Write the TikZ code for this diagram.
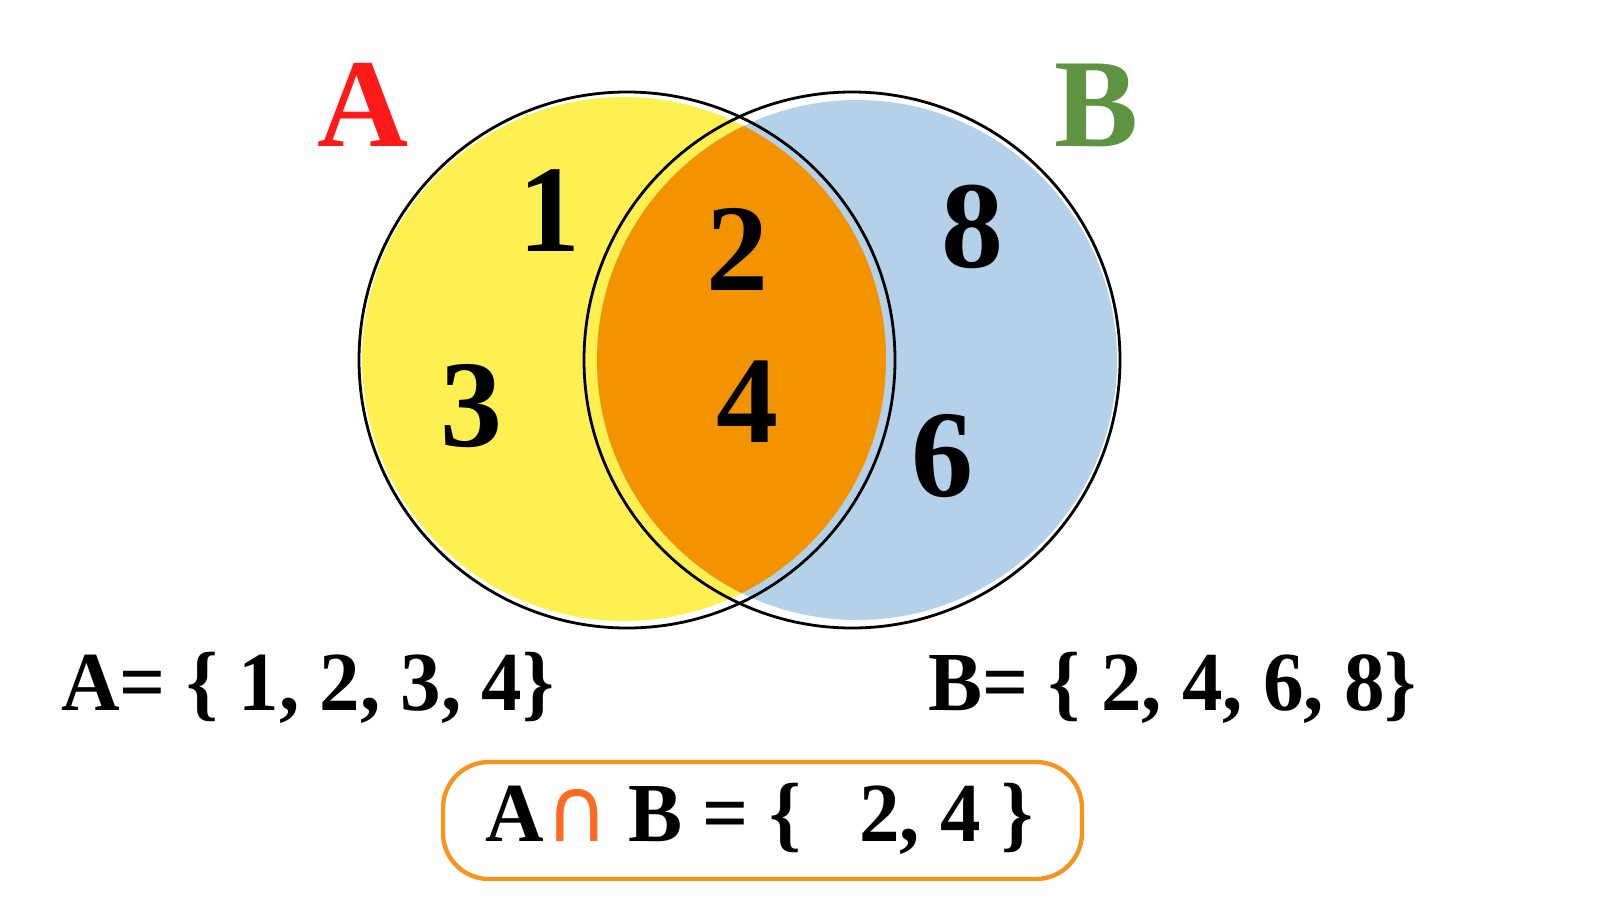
\documentclass[tikz,border=0pt]{standalone}
\usepackage{fontspec}
\setmainfont{Liberation Serif}
\newfontfamily\symfont{DejaVu Sans}
\definecolor{setyellow}{HTML}{FFF052}
\definecolor{setblue}{HTML}{B5D0E9}
\definecolor{lensorange}{HTML}{F39300}
\definecolor{labelred}{HTML}{FF1A1A}
\definecolor{labelgreen}{HTML}{5E9441}
\definecolor{boxorange}{HTML}{F7941D}
\definecolor{capred}{HTML}{FF6A22}

\begin{document}
\begin{tikzpicture}[
  x=0.5pt,
  y=-0.5pt,
  outline/.style={draw=black,line width=1.4pt},
  element/.style={font=\bfseries\fontsize{62}{62}\selectfont,inner sep=0pt},
  setname/.style={font=\bfseries\fontsize{63}{63}\selectfont,inner sep=0pt},
  setlist/.style={font=\bfseries\fontsize{42}{42}\selectfont,inner sep=0pt,anchor=base west},
  resultbox/.style={draw=boxorange,line width=2.2pt,rounded corners=23pt}
]
  \useasboundingbox (0,0) rectangle (1600,900);

  % Circle centres; the fills sit slightly inside the outlines.
  \coordinate (cA) at (627,360);
  \coordinate (cB) at (852,360);
  \coordinate (fA) at (624,359);
  \coordinate (fB) at (857,360);

  % Set fills and the orange intersection.
  \fill[setyellow] (fA) circle[radius=262];
  \fill[setblue] (fB) circle[radius=260];
  \begin{scope}
    \clip (fA) circle[radius=262];
    \fill[lensorange] (fB) circle[radius=260];
  \end{scope}

  % Black outlines on top.
  \draw[outline] (cA) circle[radius=268];
  \draw[outline] (cB) circle[radius=268];

  % Set names.
  \node[setname,text=labelred] (nameA) at (363,105) {A};
  \node[setname,text=labelgreen] (nameB) at (1097,105) {B};

  % Elements in each region.
  \node[element] (e1) at (549,211) {1};
  \node[element] (e3) at (471,406) {3};
  \node[element] (e2) at (737,249) {2};
  \node[element] (e4) at (747,402) {4};
  \node[element] (e8) at (972,227) {8};
  \node[element] (e6) at (942,456) {6};

  % Set listings.
  \node[setlist] (listA) at (61,710) {\scalebox{0.965}[1]{A= \{ 1, 2, 3, 4\}}};
  \node[setlist] (listB) at (928,710) {\scalebox{0.965}[1]{B= \{ 2, 4, 6, 8\}}};

  % Intersection result.
  \draw[resultbox] (443,762) rectangle (1082,879);
  \node[setlist] (result) at (485,841) {\scalebox{0.965}[1]{A\hspace{1pt}{\symfont\mdseries\fontsize{45}{45}\selectfont\textcolor{capred}{∩}}\hspace{10pt}B = \{\hspace{30pt}2, 4 \}}};
\end{tikzpicture}
\end{document}
